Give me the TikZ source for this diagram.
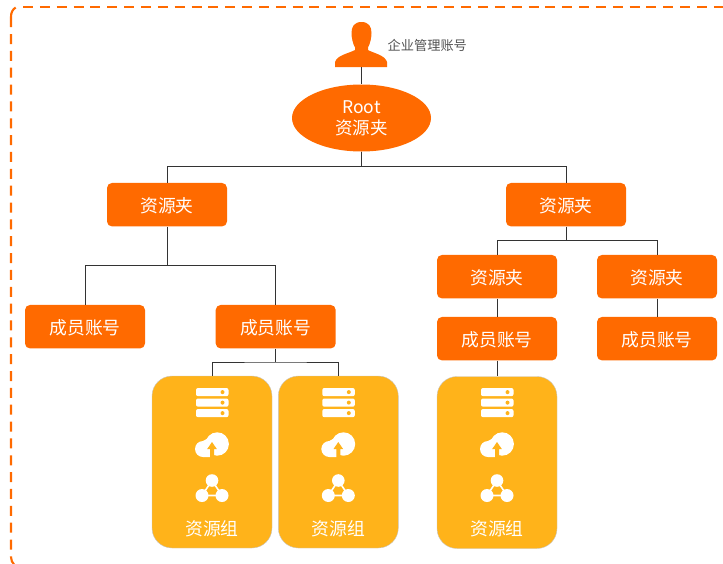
\documentclass[tikz,border=0pt]{standalone}
\usepackage{fontspec}
\usetikzlibrary{shapes.geometric}
\setmainfont{Noto Sans CJK SC}
\definecolor{aliorange}{HTML}{FF6A00}
\definecolor{aliyellow}{HTML}{FFB31A}
\definecolor{wire}{HTML}{333333}
\tikzset{
  box/.style={rectangle,rounded corners=5pt,fill=aliorange,text=white,minimum width=120pt,minimum height=43.5pt,inner sep=0pt,text height=17.4pt,text depth=2.1pt,font=\fontsize{17.8pt}{21pt}\selectfont},
  rootstyle/.style={ellipse,fill=aliorange,text=white,minimum width=139pt,minimum height=67pt,inner sep=0pt,align=center,font=\fontsize{17.5pt}{21pt}\selectfont},
  card/.style={rectangle,rounded corners=20pt,fill=aliyellow,draw=black!22,line width=.4pt,minimum width=120pt,minimum height=172pt,inner sep=0pt},
  wireline/.style={draw=wire,line width=.9pt},
  frameline/.style={aliorange,line width=2.1pt,dash pattern=on 10pt off 6.85pt},
  cardlabel/.style={text=white,inner sep=0pt,font=\fontsize{17.8pt}{21pt}\selectfont},
  resicons/.pic={
    % servers
    \foreach \yy in {388,398.5,409}{
      \fill[white,rounded corners=2pt] (-16,\yy) rectangle (16.5,\yy+8.2);
      \fill[aliyellow] (10.5,\yy+4.1) circle (2pt);
    }
    % cloud
    \fill[white] (5.2,444) circle (11.7pt);
    \fill[white] (-9,449) circle (8pt);
    \fill[white] (-9,441) -- (0,436) -- (0,457) -- (-9,457) -- cycle;
    \fill[aliyellow] (0,442) -- (4.8,449) -- (2,449) -- (2,458.2) -- (-2,458.2) -- (-2,449) -- (-4.8,449) -- cycle;
    % molecule
    \draw[white,line width=1.6pt,line join=round] (0,480.5) -- (-10,495.5) -- (10,495.5) -- cycle;
    \fill[white] (0,480.5) circle (6.3pt);
    \fill[white] (-10,495.5) circle (6.5pt);
    \fill[white] (10,495.5) circle (6.5pt);
  }
}
\begin{document}
\begin{tikzpicture}[x=1pt,y=-1pt]
\useasboundingbox (0,0) rectangle (723,563);
\clip (0,0) rectangle (723,563);
% dashed frame, open to the right and running off the bottom
\draw[frameline] (23,7) -- (740,7);
\draw[aliorange,line width=2.1pt] (15.7,7.5) .. controls (12.5,9.5) and (11,12.5) .. (11,17) -- (11,27);
\draw[frameline] (11,34) -- (11,557) arc[start angle=180,end angle=90,x radius=11pt,y radius=-11pt] -- (740,568);

% person
\fill[aliorange] (361.5,22) .. controls (354,22) and (351.5,27) .. (351.5,33)
  .. controls (351.5,38) and (353,44) .. (355,47.5) -- (355,50)
  .. controls (350,53) and (337,55) .. (335,62) -- (335,67) -- (387,67) -- (387,62)
  .. controls (385,55) and (373,53) .. (368,50) -- (368,47.5)
  .. controls (370,44) and (371.5,38) .. (371.5,33)
  .. controls (371.5,27) and (369,22) .. (361.5,22) -- cycle;
\coordinate (person) at (361.5,67);
\node[anchor=west,inner sep=0pt,text=black!68,font=\fontsize{13.2pt}{15pt}\selectfont] (adminlabel) at (387.5,45) {企业管理账号};

\node[rootstyle] (root) at (361.5,118) {Root\\资源夹};

\node[box] (fa) at (167,204.7) {资源夹};
\node[box] (fb) at (566,204.7) {资源夹};
\node[box] (fc) at (497,276.7) {资源夹};
\node[box] (fd) at (657,276.7) {资源夹};
\node[box] (ma) at (85,326.7) {成员账号};
\node[box] (mb) at (275.7,326.7) {成员账号};
\node[box] (mc) at (497,338.7) {成员账号};
\node[box] (md) at (657,338.7) {成员账号};

\node[card] (ca) at (212,462) {};
\node[card] (cb) at (338.3,462) {};
\node[card] (cc) at (497,462.5) {};

\pic at (212,0) {resicons};
\pic at (338.3,0) {resicons};
\pic at (497,0) {resicons};
\node[cardlabel] (la) at (212,528.5) {资源组};
\node[cardlabel] (lb) at (338.3,528.5) {资源组};
\node[cardlabel] (lc) at (497,528.5) {资源组};

\coordinate (busroot) at (361.5,166.5);
\coordinate (busa) at (167,265.5);
\coordinate (busb) at (566,240.5);
\coordinate (busm) at (275.7,362);

\draw[wireline] (person) -- (root.north);
\draw[wireline] (root.south) -- (busroot);
\draw[wireline] (fa.north) |- (busroot) -| (fb.north);
\draw[wireline] (fa.south) -- (busa);
\draw[wireline] (ma.north) |- (busa) -| (mb.north);
\draw[wireline] (fb.south) -- (busb);
\draw[wireline] (fc.north) |- (busb) -| (fd.north);
\draw[wireline] (fc.south) -- (mc.north);
\draw[wireline] (fd.south) -- (md.north);
\draw[wireline] (mb.south) -- (busm);
\draw[wireline] (ca.north) |- (busm) -| (cb.north);
\draw[wireline] (mc.south) -- (cc.north);
\end{tikzpicture}
\end{document}
